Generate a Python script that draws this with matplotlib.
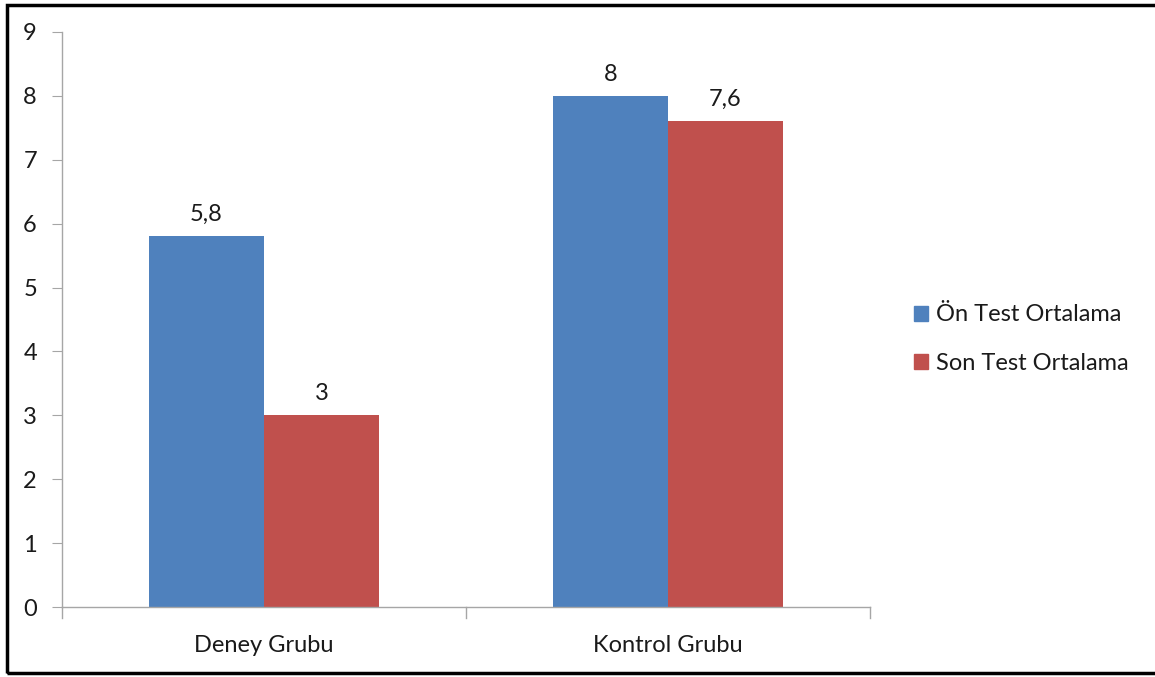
import matplotlib
matplotlib.use("Agg")
import matplotlib.pyplot as plt
from matplotlib.patches import Rectangle
from matplotlib.lines import Line2D
import numpy as np

categories = ["Deney Grubu", "Kontrol Grubu"]
series_names = ["Ön Test Ortalama", "Son Test Ortalama"]
on_test = [5.8, 8.0]
son_test = [3.0, 7.6]
value_labels = [["5,8", "8"], ["3", "7,6"]]
yticks = list(range(0, 10))

colors = ["#4f81bd", "#c0504d"]
axis_gray = "#a6a6a6"
text_color = "#1a1a1a"
font = ["Lato", "DejaVu Sans"]
fs = 17

W, H = 1155, 677
fig = plt.figure(figsize=(W / 100, H / 100), dpi=100)
plt.rcParams["font.family"] = font

# outer frame of the chart area
fig.patches.append(Rectangle((7 / W, 4 / H), (W + 10) / W, (H - 9) / H,
                             transform=fig.transFigure, fill=False,
                             edgecolor="black", linewidth=2.5))

ax = fig.add_axes([62 / W, (H - 607) / H, (870 - 62) / W, (607 - 32) / H])

x = np.arange(len(categories))
bw = 0.285
series = [on_test, son_test]
for i, vals in enumerate(series):
    pos = x + (i - 0.5) * bw
    ax.bar(pos, vals, width=bw, color=colors[i], label=series_names[i], zorder=2)
    for p, v, lab in zip(pos, vals, value_labels[i]):
        ax.annotate(lab, (p, v), xytext=(0, 8), textcoords="offset points",
                    ha="center", va="bottom", fontsize=fs, color=text_color)

ax.set_xlim(-0.5, len(categories) - 0.5)
ax.set_ylim(0, 9)
ax.set_yticks(yticks)
ax.set_yticklabels([str(t) for t in yticks], fontsize=fs, color=text_color)
ax.set_xticks(x)
ax.set_xticklabels(categories, fontsize=fs, color=text_color)
ax.tick_params(axis="x", length=0, pad=20)
ax.tick_params(axis="y", length=7, color=axis_gray, pad=11)

# category boundary ticks below the x axis
for b in np.arange(-0.5, len(categories), 1.0):
    ax.add_line(Line2D([b, b], [0, -0.17], color=axis_gray, linewidth=1,
                       clip_on=False, transform=ax.transData))

for s in ["top", "right"]:
    ax.spines[s].set_visible(False)
for s in ["left", "bottom"]:
    ax.spines[s].set_color(axis_gray)
    ax.spines[s].set_linewidth(1)

handles = [Rectangle((0, 0), 1, 1, color=c) for c in colors]
fig.legend(handles, series_names, loc="center left",
           bbox_to_anchor=(893 / W, (H - 339) / H), frameon=False,
           fontsize=fs, handlelength=0.6, handleheight=0.6,
           handletextpad=0.3, labelspacing=1.15, labelcolor=text_color)

fig.savefig("out.png", dpi=100, facecolor="white")
